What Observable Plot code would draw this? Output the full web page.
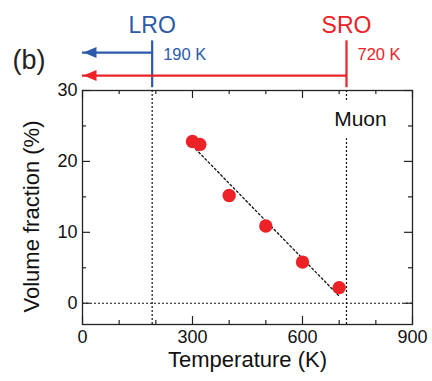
<!DOCTYPE html>
<html>
<head>
<meta charset="utf-8">
<script src="https://cdn.jsdelivr.net/npm/d3@7"></script>
<script src="https://cdn.jsdelivr.net/npm/@observablehq/plot@0.6"></script>
<style>
  html, body { margin: 0; padding: 0; background: #fff; }
</style>
</head>
<body>
<div id="chart"></div>
<script>
// Data
const temperatures = [300, 320, 400, 500, 600, 700];
const volumeFraction = [22.8, 22.4, 15.2, 10.9, 5.8, 2.2];
const fitT = [300, 702];
const fitV = [22.2, 0.9];
const xMajorTicks = [0, 300, 600, 900];
const xMinorTicks = [100, 200, 400, 500, 700, 800];
const yMajorTicks = [0, 10, 20, 30];
const yMinorTicks = [5, 15, 25];
const transitionT = [190, 720];
const transitionNames = ["LRO", "SRO"];
const transitionLabels = ["190 K", "720 K"];

const BLUE = "#2c5aa8";
const RED = "#ec2227";
const FONT = "'Liberation Sans', Arial, sans-serif";

const points = temperatures.map((t, i) => ({T: t, v: volumeFraction[i]}));
const fit = fitT.map((t, i) => ({T: t, v: fitV[i]}));
const trans = transitionT.map((t, i) => ({T: t, name: transitionNames[i], label: transitionLabels[i], color: i === 0 ? BLUE : RED}));

// arrow levels (in y units above the frame)
const arrowY = [35.35, 32.1];
const arrows = trans.map((d, i) => ({...d, y: arrowY[i]}));

const arrowHead = {
  draw(ctx) {
    const l = 13, w = 5.5;
    ctx.moveTo(0, 0);
    ctx.lineTo(l, -w);
    ctx.lineTo(l, w);
    ctx.closePath();
  }
};

const majX = 21.8, minX = 10.9, majY = 1.13, minY = 0.56;
const dash = {stroke: "#111", strokeWidth: 1.2, strokeDasharray: "2,2"};

const chart = Plot.plot({
  width: 432,
  height: 381,
  marginTop: 90,
  marginBottom: 57,
  marginLeft: 82,
  marginRight: 20,
  style: {fontFamily: FONT, fontSize: "18px", color: "#111", background: "#fff"},
  x: {domain: [0, 900]},
  y: {domain: [-3, 30]},
  marks: [
    // reference lines
    Plot.ruleY([0], {x1: 0, x2: 900, ...dash}),
    Plot.ruleX([transitionT[0]], {y1: -3, y2: 30, ...dash}),
    Plot.ruleX([transitionT[1]], {y1: -3, y2: 23.2, ...dash}),
    Plot.ruleX([transitionT[1]], {y1: 28.6, y2: 30, ...dash}),
    // fit
    Plot.line(fit, {x: "T", y: "v", stroke: "#111", strokeWidth: 1.3, strokeDasharray: "2,2.5"}),
    // data
    Plot.dot(points, {x: "T", y: "v", r: 6.7, fill: RED, stroke: "none"}),
    // ticks (inward)
    Plot.ruleX(xMajorTicks, {y1: -3, y2: -3 + majY, stroke: "#222", strokeWidth: 1.2}),
    Plot.ruleX(xMinorTicks, {y1: -3, y2: -3 + minY, stroke: "#222", strokeWidth: 1.2}),
    Plot.ruleX(xMajorTicks, {y1: 30, y2: 30 - majY, stroke: "#222", strokeWidth: 1.2}),
    Plot.ruleX(xMinorTicks, {y1: 30, y2: 30 - minY, stroke: "#222", strokeWidth: 1.2}),
    Plot.ruleY(yMajorTicks, {x1: 0, x2: majX, stroke: "#222", strokeWidth: 1.2}),
    Plot.ruleY(yMinorTicks, {x1: 0, x2: minX, stroke: "#222", strokeWidth: 1.2}),
    Plot.ruleY(yMajorTicks, {x1: 900, x2: 900 - majX, stroke: "#222", strokeWidth: 1.2}),
    Plot.ruleY(yMinorTicks, {x1: 900, x2: 900 - minX, stroke: "#222", strokeWidth: 1.2}),
    Plot.frame({stroke: "#222", strokeWidth: 1.3}),
    // axes
    Plot.axisX({ticks: xMajorTicks, tickSize: 0, tickPadding: 6, fontSize: 18, label: null}),
    Plot.axisY({ticks: yMajorTicks, tickSize: 0, tickPadding: 5, fontSize: 18, label: null}),
    Plot.text(["Temperature (K)"], {frameAnchor: "bottom", dy: 42, fontSize: 22, fill: "#111"}),
    Plot.text(["Volume fraction (%)"], {frameAnchor: "left", textAnchor: "middle", rotate: -90, dx: -51, dy: 9, fontSize: 22, fill: "#111"}),
    Plot.text(["Muon"], {x: 758, y: 25.9, fontSize: 21, fill: "#111"}),
    // top annotations
    Plot.ruleX(trans, {x: "T", y1: 30.4, y2: 37.0, stroke: "color", strokeWidth: 2.2}),
    Plot.ruleY(arrows, {y: "y", x1: 0, x2: "T", stroke: "color", strokeWidth: 2.2}),
    Plot.dot(arrows, {x: 0, y: "y", symbol: arrowHead, fill: "color", stroke: "none", r: 5, dx: 1}),
    Plot.text(trans, {x: "T", y: 39.2, text: "name", fill: "color", fontSize: 23}),
    Plot.text(trans, {x: "T", y: 35.07, text: "label", fill: "color", fontSize: 16.5, textAnchor: "start", dx: 11}),
    Plot.text(["(b)"], {x: 0, y: 34.2, text: d => d, textAnchor: "start", dx: -70, fontSize: 27, fill: "#222"})
  ]
});

document.getElementById("chart").appendChild(chart);
</script>
</body>
</html>
